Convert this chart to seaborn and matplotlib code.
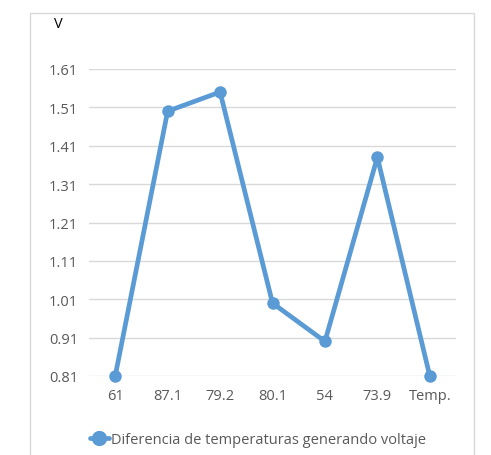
import matplotlib
matplotlib.use("Agg")
import matplotlib.pyplot as plt
import seaborn as sns
import pandas as pd
from matplotlib.patches import Rectangle
from matplotlib.lines import Line2D

# Data
categories = ["61", "87.1", "79.2", "80.1", "54", "73.9", "Temp."]
voltaje = [0.81, 1.50, 1.55, 1.00, 0.90, 1.38, 0.81]
y_ticks = [0.81, 0.91, 1.01, 1.11, 1.21, 1.31, 1.41, 1.51, 1.61]
serie = "Diferencia de temperaturas generando voltaje"

df = pd.DataFrame({"pos": range(len(categories)), "V": voltaje})

sns.set_style("white")
plt.rcParams['font.family'] = ['Open Sans', 'DejaVu Sans']

blue = "#5B9BD5"
grey_txt = "#595959"
grid_c = "#D9D9D9"

fig = plt.figure(figsize=(4.91, 4.56), dpi=100)
ax = fig.add_axes([89 / 491, 1 - 377 / 456, 367 / 491, 307 / 456])

sns.lineplot(data=df, x="pos", y="V", ax=ax, color=blue, linewidth=3.4,
             marker="o", markersize=9, markeredgewidth=0, sort=False)
for ln in ax.lines:
    ln.set_clip_on(False)

ax.set_xlim(-0.5, len(categories) - 0.5)
ax.set_ylim(0.81, 1.61)
ax.set_yticks(y_ticks)
ax.set_yticklabels([f"{t:.2f}" for t in y_ticks])
ax.set_xticks(range(len(categories)))
ax.set_xticklabels(categories)
ax.tick_params(axis="both", length=0, colors=grey_txt, labelsize=10.5)
ax.tick_params(axis="x", pad=9)
ax.tick_params(axis="y", pad=8)
ax.yaxis.grid(True, color=grid_c, linewidth=1)
ax.set_axisbelow(True)
for s in ax.spines.values():
    s.set_visible(False)
ax.set_xlabel("")
ax.set_ylabel("")

# y-axis unit label
fig.text(54 / 491, 1 - 25 / 456, "V", fontsize=10.5, color="#000000", va="center")

# outer chart frame
fig.patches.append(Rectangle((30 / 491, -0.01), 444 / 491, 1 - 14 / 456 + 0.01,
                             transform=fig.transFigure, fill=False,
                             edgecolor=grid_c, linewidth=1))

# legend below the plot
handle = Line2D([], [], color=blue, linewidth=3.4, marker="o", markersize=11,
                markeredgewidth=0)
fig.legend([handle], [serie], loc="center", bbox_to_anchor=(258 / 491, 1 - 441 / 456),
           frameon=False, fontsize=10.5, handlelength=1.3, handletextpad=0.2,
           labelcolor=grey_txt)

fig.savefig("out.png", dpi=100)
